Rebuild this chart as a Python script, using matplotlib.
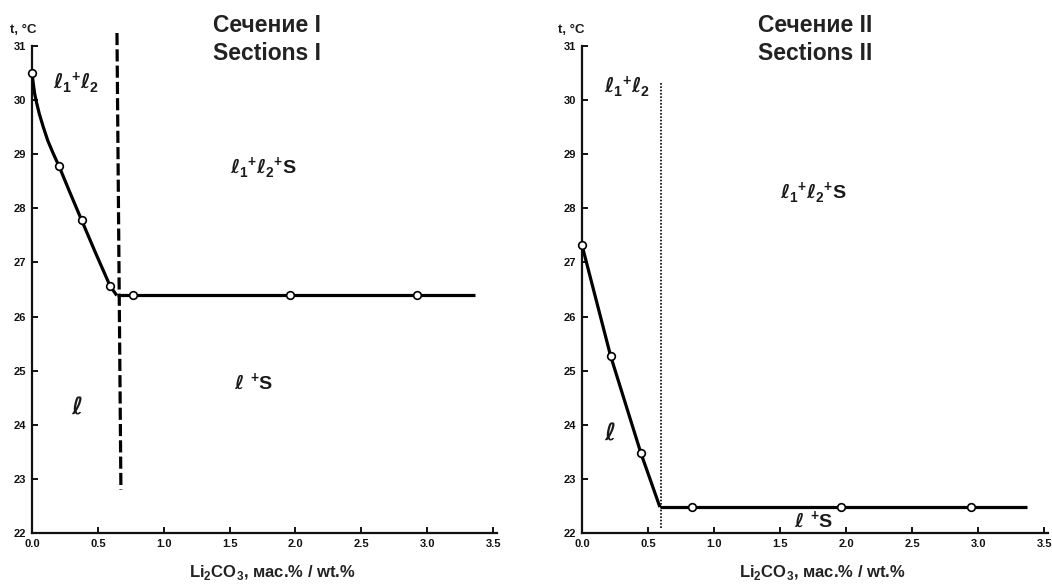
import matplotlib
matplotlib.use("Agg")
import matplotlib.pyplot as plt

plt.rcParams['font.family'] = ['Liberation Sans', 'DejaVu Sans']
plt.rcParams['font.weight'] = 'bold'
plt.rcParams['mathtext.fontset'] = 'custom'
plt.rcParams['mathtext.rm'] = 'Liberation Sans:bold'
plt.rcParams['mathtext.bf'] = 'Liberation Sans:bold'
plt.rcParams['mathtext.it'] = 'DejaVu Sans:italic'

# ---------------- data ----------------
# Section I
s1_curve_x = [0.0, 0.01, 0.02, 0.035, 0.055, 0.086, 0.12, 0.16, 0.205, 0.29, 0.377, 0.48, 0.592, 0.643]
s1_curve_y = [30.5, 30.3, 30.12, 29.95, 29.75, 29.5, 29.25, 29.02, 28.78, 28.28, 27.78, 27.19, 26.57, 26.39]
s1_plateau_x = [0.643, 3.36]
s1_plateau_y = [26.39, 26.39]
s1_pts_x = [0.0, 0.205, 0.377, 0.592, 0.77, 1.96, 2.92]
s1_pts_y = [30.5, 28.78, 27.78, 26.57, 26.39, 26.39, 26.39]
s1_border_x = [0.645, 0.675]
s1_border_y = [31.24, 22.8]

# Section II
s2_curve_x = [0.0, 0.217, 0.447, 0.59]
s2_curve_y = [27.32, 25.27, 23.47, 22.48]
s2_plateau_x = [0.59, 3.37]
s2_plateau_y = [22.48, 22.48]
s2_pts_x = [0.0, 0.217, 0.447, 0.83, 1.96, 2.95]
s2_pts_y = [27.32, 25.27, 23.47, 22.48, 22.48, 22.48]
s2_border_x = [0.6, 0.6]
s2_border_y = [30.31, 22.07]

x_ticks = [0.0, 0.5, 1.0, 1.5, 2.0, 2.5, 3.0, 3.5]
x_ticklabels = ['0.0', '0.5', '1.0', '1.5', '2.0', '2.5', '3.0', '3.5']
y_ticks = [22, 23, 24, 25, 26, 27, 28, 29, 30, 31]

titles = [("Сечение I", "Sections I"), ("Сечение II", "Sections II")]
xlabel = "Li$_2$CO$_3$, мас.% / wt.%"
ylabel = "t, °C"

L12 = r'$\ell_1{}^{+}\ell_2$'
L12S = r'$\ell_1{}^{+}\ell_2{}^{+}$S'
LS = r'$\ell\ {}^{+}$S'
L = r'$\ell$'

s1_labels = [(L12, 0.334, 30.32, 14.5), (L12S, 1.758, 28.75, 14),
             (LS, 1.68, 24.79, 14), (L, 0.338, 24.33, 17)]
s2_labels = [(L12, 0.341, 30.24, 14.5), (L12S, 1.75, 28.28, 14),
             (LS, 1.754, 22.24, 14), (L, 0.212, 23.85, 17)]

# ---------------- figure ----------------
W, H = 1052, 584
fig = plt.figure(figsize=(W / 100, H / 100), dpi=100)
ax1 = fig.add_axes([32 / W, (H - 533) / H, (497 - 32) / W, (533 - 46) / H])
ax2 = fig.add_axes([582 / W, (H - 533) / H, (1048 - 582) / W, (533 - 46) / H])

txtc = '#1a1a1a'


def style(ax):
    ax.set_xlim(0, 3.53)
    ax.set_ylim(22, 31)
    for s in ['top', 'right']:
        ax.spines[s].set_visible(False)
    for s in ['left', 'bottom']:
        ax.spines[s].set_linewidth(1.6)
        ax.spines[s].set_color('#111111')
    ax.set_xticks(x_ticks)
    ax.set_xticklabels(x_ticklabels)
    ax.set_yticks(y_ticks)
    ax.tick_params(direction='in', length=4, width=1.4, labelsize=8,
                   colors='#111111', pad=4)
    for lab in ax.get_xticklabels() + ax.get_yticklabels():
        lab.set_fontweight('bold')


style(ax1)
style(ax2)

# Section I
ax1.plot(s1_curve_x, s1_curve_y, color='black', lw=2.3, solid_capstyle='butt',
         solid_joinstyle='round', zorder=3)
ax1.plot(s1_plateau_x, s1_plateau_y, color='black', lw=2.3, solid_capstyle='butt', zorder=3)
ax1.plot(s1_border_x, s1_border_y, color='black', lw=2.3, linestyle=(0, (3.8, 1.3)),
         clip_on=False, zorder=2)
ax1.plot(s1_pts_x, s1_pts_y, linestyle='none', marker='o', ms=5.5, mfc='white',
         mec='black', mew=1.2, zorder=4, clip_on=False)

# Section II
ax2.plot(s2_curve_x, s2_curve_y, color='black', lw=2.3, solid_capstyle='butt',
         solid_joinstyle='round', zorder=3)
ax2.plot(s2_plateau_x, s2_plateau_y, color='black', lw=2.3, solid_capstyle='butt', zorder=3)
ax2.plot(s2_border_x, s2_border_y, color='black', lw=1.2, linestyle=(0, (1, 1)),
         clip_on=False, zorder=2)
ax2.plot(s2_pts_x, s2_pts_y, linestyle='none', marker='o', ms=5.5, mfc='white',
         mec='black', mew=1.2, zorder=4, clip_on=False)

for ax, labs in [(ax1, s1_labels), (ax2, s2_labels)]:
    for t, x, y, fs in labs:
        ax.text(x, y, t, ha='center', va='center', fontsize=fs, color=txtc,
                fontweight='bold')

# titles
for (l1, l2), x0 in zip(titles, [213, 758]):
    fig.text(x0 / W, (H - 32) / H, l1, ha='left', va='baseline', fontsize=16.5,
             fontweight='bold', color='#222222')
    fig.text(x0 / W, (H - 60) / H, l2, ha='left', va='baseline', fontsize=16.5,
             fontweight='bold', color='#222222')

# y labels
for x0 in [10, 558]:
    fig.text(x0 / W, (H - 33) / H, ylabel, ha='left', va='baseline', fontsize=9.5,
             fontweight='bold', color=txtc)

# x labels
for xc in [272, 822]:
    fig.text(xc / W, (H - 577) / H, xlabel, ha='center', va='baseline', fontsize=12,
             fontweight='bold', color='#222222')

fig.savefig('out.png', dpi=100)
